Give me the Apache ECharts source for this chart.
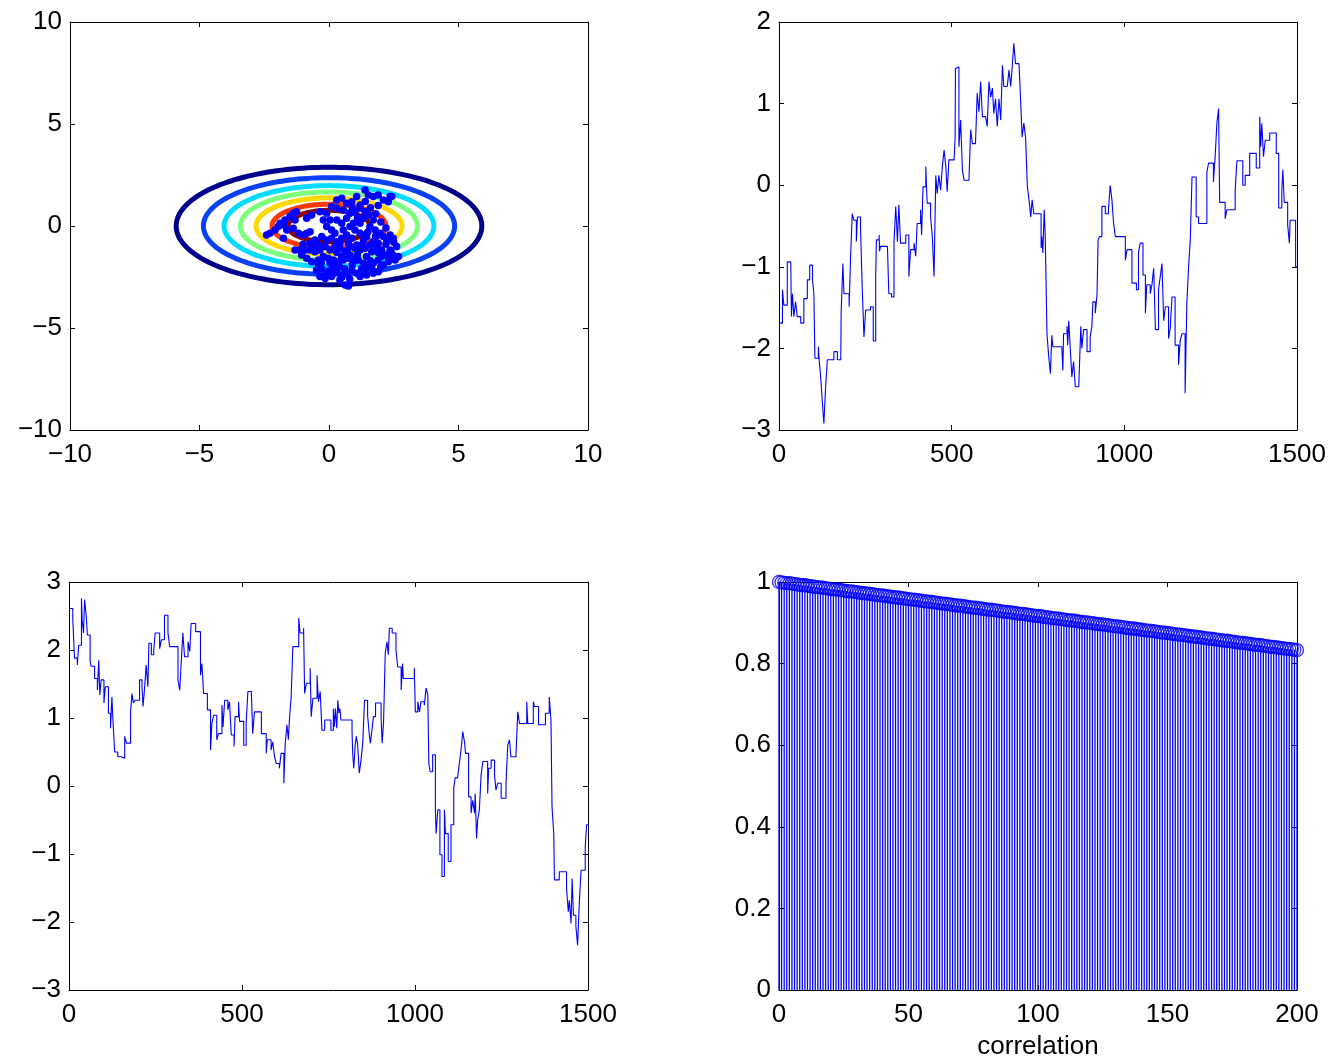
<!DOCTYPE html>
<html>
<head>
<meta charset="utf-8">
<script src="https://cdn.jsdelivr.net/npm/echarts@6/dist/echarts.min.js"></script>
<style>
html,body{margin:0;padding:0;background:#fff;}
#chart{width:1333px;height:1062px;}
</style>
</head>
<body>
<div id="chart"></div>
<script>
// ---------- Panel 1: contour ellipses (semi-axes) + samples ----------
const ellipseA = [5.9, 4.85, 4.05, 3.42, 2.82, 2.2, 1.58];
const ellipseB = [2.88, 2.37, 1.98, 1.67, 1.38, 1.07, 0.77];
const ellipseColors = ['#00008f', '#0a40f5', '#00ddff', '#7cff7c', '#ffd800', '#ff3a00', '#900000'];

const sampleX = [-2.41,-2.28,-2.08,-1.96,-1.89,-1.76,-1.70,-1.63,-1.76,-1.51,-1.38,-1.25,-1.31,-1.38,-1.18,-0.99,-0.86,-0.73,-0.86,-0.67,
-0.35,-0.22,0.04,-0.09,0.10,0.23,0.30,0.49,0.68,0.55,0.81,0.94,1.00,1.20,1.33,1.45,1.58,1.78,1.97,2.10,
2.23,2.36,2.48,2.61,2.68,2.55,2.23,2.03,1.84,1.65,1.45,1.20,1.00,0.81,0.62,0.42,0.23,0.04,-0.15,-0.35,
-0.54,-0.73,-0.93,-1.12,-1.31,-1.06,-0.86,-0.67,-0.41,-0.22,-0.03,0.17,0.36,0.55,0.75,0.94,1.13,1.33,1.52,1.71,
1.90,2.10,2.29,0.30,0.49,0.68,0.88,1.07,1.20,1.39,1.52,1.71,1.90,2.10,2.29,2.42,0.30,0.55,0.81,1.00,
1.20,1.39,1.52,1.71,0.68,0.49,0.30,0.10,-0.09,-0.48,-0.28,-0.09,0.10,0.30,0.49,0.68,0.88,1.07,1.26,-0.35,
-0.15,0.42,0.62,0.75,0.04,0.23,-0.41,1.20,1.45,1.71,1.90,1.65,1.20,1.33,0.17,-0.73,-0.54,-0.28,-0.09,0.10,
0.42,0.75,0.88,1.07,1.71,1.90,0.81,0.49,1.39,1.58,2.03,2.36,2.47,2.36,
1.6,1.8,2.0,2.2,1.5,1.3,1.1,0.9,0.6,0.4,1.6,1.9,2.2,2.4,2.5,-0.4,-0.6,-1.0,
0.9,1.1,1.4,1.9,0.8,0.5,0.0,-0.3,1.0,1.4,2.0,2.3,1.8,0.7,0.3];
const sampleY = [-0.44,-0.36,-0.20,-0.03,0.13,0.05,0.29,-0.20,-0.60,0.46,0.62,0.70,0.29,-0.11,-0.36,-0.44,-0.36,-0.28,0.38,0.54,
0.70,0.29,0.29,-0.03,-0.20,-0.36,-0.77,-0.60,-0.44,-0.20,-0.03,0.13,-0.20,-0.36,-0.69,-0.52,-0.03,-0.20,-0.36,-0.52,
-0.69,-0.44,-0.60,-1.01,-1.50,-1.67,-1.42,-1.18,-1.01,-1.26,-1.50,-1.18,-1.09,-1.01,-1.26,-1.09,-1.01,-1.18,-1.01,-1.18,
-1.26,-1.18,-1.18,-1.18,-1.18,-1.42,-1.58,-1.75,-1.67,-1.50,-1.58,-1.67,-1.75,-1.67,-1.58,-1.75,-1.67,-1.83,-1.91,-1.83,
-1.67,-1.91,-1.75,1.27,1.36,1.11,1.19,1.44,1.03,1.76,1.52,1.44,1.52,1.27,1.19,1.44,0.87,0.78,0.62,0.70,
0.87,0.70,0.54,0.29,0.38,0.13,0.29,0.95,0.62,-2.16,-2.08,-2.32,-2.48,-2.24,-2.40,-2.32,-2.16,-2.32,-2.08,-2.48,
-2.57,-2.65,-2.89,-2.94,-1.83,-1.91,-1.91,-2.48,-2.40,-2.32,-2.24,-2.08,0.13,0.38,-2.08,-0.85,-0.69,-0.52,-0.69,-0.60,
-0.85,-0.85,-0.60,-0.93,-0.77,-0.85,-1.42,-1.50,-1.09,-0.93,-1.50,-1.18,-1.42,1.44,
0.9,0.6,0.2,-0.1,-0.3,-0.9,-1.4,-1.9,-2.1,-2.0,-1.7,-1.3,-0.9,-1.3,-0.8,-0.9,-1.0,-0.9,
0.9,0.4,1.2,1.0,-2.6,-2.5,-2.2,-1.8,-1.6,-2.2,-2.0,-1.6,-0.5,-1.2,-1.3];

// ---------- Panel 2: trace (step breakpoints) ----------
const trace2X = [0,10,14,24,34,36,39,43,48,53,63,72,82,89,97,101,104,114,116,121,125,130,135,140,159,169,179,180,185,188,
203,207,212,217,224,227,236,241,246,251,265,273,280,282,290,291,294,314,318,326,333,338,343,347,352,367,376,381,391,396,
400,410,413,417,425,429,439,444,449,454,458,463,468,473,478,483,487,492,507,510,511,516,521,526,531,536,550,555,560,569,
574,579,584,589,598,603,608,613,618,622,627,632,637,642,647,651,661,666,671,676,680,685,695,700,704,709,714,719,724,729,
733,738,747,759,761,764,768,771,776,781,786,790,793,819,822,824,834,836,839,844,848,853,858,868,871,874,877,882,892,901,
906,909,916,921,924,928,935,945,954,959,964,969,974,1003,1008,1022,1035,1041,1046,1054,1061,1065,1075,1080,1085,1090,1099,1104,1109,1114,
1119,1128,1133,1138,1147,1157,1162,1167,1176,1181,1186,1191,1196,1208,1215,1239,1244,1258,1263,1268,1273,1276,1292,1297,1321,1326,1343,1350,1363,1382,
1392,1395,1398,1403,1408,1421,1440,1447,1456,1459,1463,1473,1478,1480,1496,1500];
const trace2Y = [-1.69,-1.28,-1.47,-0.94,-0.94,-1.61,-1.33,-1.61,-1.43,-1.61,-1.69,-1.39,-1.16,-0.98,-1.16,-1.33,-2.12,-1.98,-2.12,-2.37,-2.63,-2.92,-2.47,-2.14,-2.04,-2.14,-2.06,-1.55,-0.96,-1.33,
-1.49,-0.92,-0.35,-0.43,-0.69,-0.39,-0.51,-1.26,-1.86,-1.53,-1.49,-1.91,-1.12,-0.67,-0.61,-0.81,-0.75,-0.75,-1.33,-1.37,-0.71,-0.26,-0.69,-0.24,-0.71,-0.61,-1.12,-0.79,-0.71,-0.87,
-0.47,-0.30,-0.61,-0.02,0.23,-0.22,-0.39,-0.63,-1.12,0.12,-0.10,0.12,-0.06,0.23,0.43,0.23,-0.08,0.31,0.31,0.59,1.43,1.45,0.47,0.80,0.19,0.06,0.06,0.68,0.51,0.51,
1.13,0.90,1.27,0.84,0.84,0.72,1.27,1.08,1.19,0.88,1.06,0.72,1.06,0.80,1.47,1.21,1.21,1.41,1.21,1.49,1.74,1.49,1.49,1.00,0.59,0.76,0.59,0.00,-0.18,-0.39,
-0.18,-0.35,-0.35,-0.77,-0.63,-0.83,-0.30,-0.63,-1.82,-2.10,-2.31,-1.84,-1.98,-2.00,-2.27,-1.82,-1.73,-1.96,-1.66,-2.04,-2.35,-2.16,-2.47,-2.49,-2.10,-1.73,-2.00,-1.77,-2.04,-1.86,
-1.73,-1.43,-1.57,-1.33,-0.67,-0.63,-0.26,-0.35,-0.30,0.00,-0.18,-0.47,-0.63,-0.92,-0.79,-1.20,-1.28,-0.83,-0.71,-1.10,-1.57,-1.22,-1.33,-1.22,-1.02,-1.77,-1.28,-1.12,-0.96,-1.66,
-1.49,-1.88,-1.75,-1.37,-1.96,-2.20,-1.90,-1.82,-2.55,-1.45,-1.00,-0.67,0.10,-0.39,-0.47,0.16,0.27,0.04,0.35,0.76,0.94,-0.21,-0.41,-0.30,-0.06,0.30,0.00,0.12,0.39,0.21,
0.84,0.47,0.76,0.35,0.55,0.64,0.39,-0.28,-0.06,0.19,-0.21,-0.49,-0.71,-0.43,-1.00,-1.00];

// ---------- Panel 3: trace (step breakpoints) ----------
const trace3X = [0,11,16,24,28,36,38,42,45,50,53,61,64,74,82,86,89,93,101,105,114,120,124,127,132,141,151,161,166,178,
182,186,190,204,211,214,218,223,228,231,238,245,249,262,267,276,286,291,315,320,324,329,334,344,349,353,366,380,384,389,
400,409,413,418,427,432,442,445,450,459,464,469,477,480,490,493,505,512,517,527,531,536,556,570,573,584,589,594,599,608,
613,621,625,630,634,637,642,647,664,668,678,681,686,697,700,705,717,721,726,731,739,757,764,767,770,774,777,780,783,786,
818,820,823,827,830,834,839,844,849,854,863,868,871,875,880,886,902,905,909,914,919,923,926,934,945,950,960,964,966,998,
1001,1008,1013,1017,1027,1032,1037,1040,1044,1051,1059,1061,1066,1072,1078,1085,1088,1096,1104,1112,1116,1123,1128,1133,1138,1143,1146,1155,1162,1167,
1172,1174,1178,1181,1186,1191,1196,1210,1213,1220,1230,1234,1239,1249,1263,1268,1273,1277,1292,1297,1302,1323,1326,1342,1345,1357,1377,1388,1393,1396,
1401,1403,1417,1438,1443,1446,1451,1454,1458,1465,1470,1475,1480,1492,1496,1500];
const trace3Y = [2.61,2.44,1.88,1.78,2.07,2.76,2.44,2.25,2.74,2.49,2.22,1.83,1.76,1.58,1.41,1.85,1.34,1.56,1.22,1.46,1.07,0.85,1.31,0.97,0.50,0.43,0.41,0.73,0.63,1.09,
1.36,1.22,1.26,1.56,1.46,1.17,1.41,1.78,1.46,2.10,1.93,2.00,2.25,2.02,2.15,2.51,2.25,2.05,1.56,1.41,1.78,2.25,1.90,2.12,1.98,2.39,2.27,1.63,1.80,1.36,
1.12,0.53,0.92,1.04,0.68,0.77,1.19,0.87,1.26,1.12,1.24,0.75,0.58,1.02,1.24,0.95,0.60,0.92,1.39,1.41,0.77,1.09,0.77,0.48,0.68,0.53,0.65,0.43,0.33,0.26,
0.48,0.04,0.63,0.90,0.68,0.97,1.31,2.05,2.47,2.25,2.32,1.36,1.51,1.73,1.02,1.29,1.63,1.24,1.39,0.82,0.97,0.82,1.14,0.87,1.14,0.85,1.26,1.07,1.14,0.97,
0.80,0.48,0.26,0.58,0.73,0.63,0.19,0.38,0.63,1.26,1.04,0.75,0.63,0.80,1.02,1.22,1.02,0.63,0.92,1.95,2.12,1.93,2.32,2.25,2.00,1.75,1.41,1.80,1.58,1.73,
1.09,1.24,1.09,1.24,1.19,1.44,1.34,0.33,0.21,0.46,-0.35,-0.70,-0.35,-1.01,-1.33,-0.35,-0.70,-1.11,-0.57,-0.03,0.12,0.14,0.33,0.53,0.80,0.65,0.48,-0.16,-0.40,-0.21,
-0.40,-0.11,-0.77,-0.50,-0.35,0.16,0.36,-0.11,0.26,0.38,0.16,-0.06,0.04,-0.18,0.04,0.60,0.68,0.43,0.48,1.09,0.92,1.24,0.92,1.24,1.17,0.90,1.07,1.31,0.97,-0.30,
-0.70,-1.38,-1.26,-1.50,-1.85,-1.68,-2.02,-1.36,-1.90,-2.07,-2.34,-1.70,-1.24,-0.89,-0.57,-0.57];

// ---------- Panel 4: autocorrelation stems ----------
const lagCount = 201;
const correlation = [1.000,0.999,0.998,0.997,0.997,0.996,0.995,0.994,0.993,0.992,
0.992,0.991,0.990,0.989,0.988,0.987,0.987,0.986,0.985,0.984,
0.983,0.982,0.982,0.981,0.980,0.979,0.978,0.977,0.977,0.976,
0.975,0.974,0.973,0.972,0.972,0.971,0.970,0.969,0.968,0.967,
0.967,0.966,0.965,0.964,0.963,0.962,0.962,0.961,0.960,0.959,
0.958,0.957,0.957,0.956,0.955,0.954,0.953,0.952,0.952,0.951,
0.950,0.949,0.948,0.947,0.947,0.946,0.945,0.944,0.943,0.942,
0.942,0.941,0.940,0.939,0.938,0.937,0.937,0.936,0.935,0.934,
0.933,0.932,0.932,0.931,0.930,0.929,0.928,0.927,0.927,0.926,
0.925,0.924,0.923,0.922,0.922,0.921,0.920,0.919,0.918,0.917,
0.917,0.916,0.915,0.914,0.913,0.912,0.911,0.911,0.910,0.909,
0.908,0.907,0.906,0.906,0.905,0.904,0.903,0.902,0.901,0.901,
0.900,0.899,0.898,0.897,0.896,0.896,0.895,0.894,0.893,0.892,
0.891,0.891,0.890,0.889,0.888,0.887,0.886,0.886,0.885,0.884,
0.883,0.882,0.881,0.881,0.880,0.879,0.878,0.877,0.876,0.876,
0.875,0.874,0.873,0.872,0.871,0.871,0.870,0.869,0.868,0.867,
0.866,0.866,0.865,0.864,0.863,0.862,0.861,0.861,0.860,0.859,
0.858,0.857,0.856,0.856,0.855,0.854,0.853,0.852,0.851,0.851,
0.850,0.849,0.848,0.847,0.846,0.846,0.845,0.844,0.843,0.842,
0.841,0.841,0.840,0.839,0.838,0.837,0.836,0.836,0.835,0.834,
0.833];
const lags = Array.from({length: lagCount}, (_, i) => i);

// ---------- Tick settings ----------
const ticks1 = {xmin: -10, xmax: 10, xint: 5, ymin: -10, ymax: 10, yint: 5};
const ticks2 = {xmin: 0, xmax: 1500, xint: 500, ymin: -3, ymax: 2, yint: 1};
const ticks3 = {xmin: 0, xmax: 1500, xint: 500, ymin: -3, ymax: 3, yint: 1};
const ticks4 = {xmin: 0, xmax: 200, xint: 50, ymin: 0, ymax: 1, yint: 0.2};

// ---------- Build option ----------
const FONT = '"Liberation Sans", Arial, Helvetica, sans-serif';
const FS = 26;
const BLUE = '#0000ff';
function fmt(v) { return String(+(+v).toFixed(4)).replace('-', '\u2212'); }

const grids = [
  {left: 70, top: 22, width: 518, height: 408},
  {left: 779, top: 22, width: 518, height: 408},
  {left: 69, top: 582, width: 519, height: 408},
  {left: 779, top: 582, width: 518, height: 408}
];
const tickSets = [ticks1, ticks2, ticks3, ticks4];

const xAxes = [], yAxes = [];
tickSets.forEach((t, g) => {
  const common = {
    type: 'value', gridIndex: g,
    axisLine: {show: true, onZero: false, lineStyle: {color: '#000', width: 1}},
    axisTick: {show: true, inside: true, length: 5, lineStyle: {color: '#000', width: 1}},
    splitLine: {show: false}
  };
  const lab = {show: true, color: '#000', fontSize: FS, fontFamily: FONT, formatter: fmt,
               showMinLabel: true, showMaxLabel: true};
  xAxes.push(Object.assign({}, common, {position: 'bottom', min: t.xmin, max: t.xmax, interval: t.xint,
    axisLabel: Object.assign({}, lab, {margin: 12}),
    name: g === 3 ? 'correlation' : '', nameLocation: 'middle', nameGap: 44,
    nameTextStyle: {color: '#000', fontSize: FS, fontFamily: FONT}}));
  xAxes.push(Object.assign({}, common, {position: 'top', min: t.xmin, max: t.xmax, interval: t.xint,
    axisLabel: {show: false}}));
  yAxes.push(Object.assign({}, common, {position: 'left', min: t.ymin, max: t.ymax, interval: t.yint,
    axisLabel: Object.assign({}, lab, {margin: 8})}));
  yAxes.push(Object.assign({}, common, {position: 'right', min: t.ymin, max: t.ymax, interval: t.yint,
    axisLabel: {show: false}}));
});

const series = [
  {
    type: 'custom', xAxisIndex: 0, yAxisIndex: 0, silent: true, clip: true,
    data: ellipseA.map((a, i) => [a, ellipseB[i]]),
    renderItem: function (params, api) {
      const a = api.value(0), b = api.value(1);
      const pts = [];
      for (let i = 0; i <= 180; i++) {
        const t = i / 180 * 2 * Math.PI;
        pts.push(api.coord([a * Math.cos(t), b * Math.sin(t)]));
      }
      return {type: 'polyline', shape: {points: pts},
              style: {stroke: ellipseColors[params.dataIndex], lineWidth: 5, fill: null}};
    }
  },
  {
    type: 'scatter', xAxisIndex: 0, yAxisIndex: 0, symbol: 'circle', symbolSize: 7.5,
    itemStyle: {color: BLUE, opacity: 1},
    data: sampleX.map((x, i) => [x, sampleY[i]])
  },
  {
    type: 'line', xAxisIndex: 2, yAxisIndex: 2, step: 'end', showSymbol: false,
    lineStyle: {color: BLUE, width: 1.1}, itemStyle: {color: BLUE},
    data: trace2X.map((x, i) => [x, trace2Y[i]])
  },
  {
    type: 'line', xAxisIndex: 4, yAxisIndex: 4, step: 'end', showSymbol: false,
    lineStyle: {color: BLUE, width: 1.1}, itemStyle: {color: BLUE},
    data: trace3X.map((x, i) => [x, trace3Y[i]])
  },
  {
    type: 'bar', xAxisIndex: 6, yAxisIndex: 6, barWidth: 1.3,
    itemStyle: {color: BLUE},
    data: lags.map((x, i) => [x, correlation[i]])
  },
  {
    type: 'scatter', xAxisIndex: 6, yAxisIndex: 6, symbol: 'circle', symbolSize: 13,
    itemStyle: {color: 'rgba(0,0,0,0)', borderColor: BLUE, borderWidth: 1.3},
    data: lags.map((x, i) => [x, correlation[i]])
  }
];

const chart = echarts.init(document.getElementById('chart'), null, {renderer: 'canvas'});
chart.setOption({
  animation: false,
  backgroundColor: '#fff',
  textStyle: {fontFamily: FONT},
  grid: grids,
  xAxis: xAxes,
  yAxis: yAxes,
  series: series
});
</script>
</body>
</html>
